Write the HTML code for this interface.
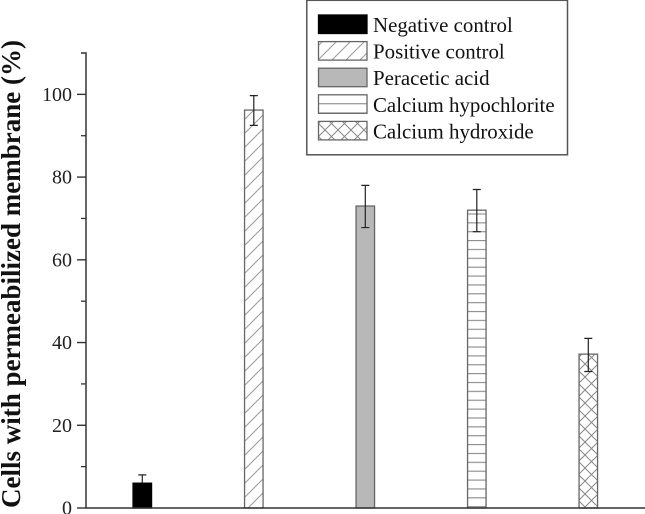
<!DOCTYPE html>
<html>
<head>
<meta charset="utf-8">
<style>
html,body{margin:0;padding:0;background:#fff;}
svg{display:block;font-family:"Liberation Serif",serif;}
</style>
</head>
<body>
<svg id="chart" xmlns="http://www.w3.org/2000/svg" width="645" height="514" viewBox="0 0 645 514">
<defs>
<pattern id="p-solid-black" patternUnits="userSpaceOnUse" width="10" height="10"><rect width="10" height="10" fill="#000"/></pattern>
<pattern id="p-solid-gray" patternUnits="userSpaceOnUse" width="10" height="10"><rect width="10" height="10" fill="#b8b8b8"/></pattern>
<pattern id="p-diag" patternUnits="userSpaceOnUse" width="14" height="14"><rect width="14" height="14" fill="#fff"/><path d="M-2 16L16 -2M-2 2L2 -2M12 16L16 12" stroke="#999" stroke-width="1" fill="none"/></pattern>
<pattern id="p-horiz" patternUnits="userSpaceOnUse" width="10" height="8.87"><rect width="10" height="8.87" fill="#fff"/><path d="M0 1.1H10" stroke="#888" stroke-width="1.1"/></pattern>
<pattern id="p-horiz-legend" patternUnits="userSpaceOnUse" width="10" height="9.25"><rect width="10" height="9.25" fill="#fff"/><path d="M0 2H10" stroke="#888" stroke-width="1.1"/></pattern>
<pattern id="p-cross" patternUnits="userSpaceOnUse" width="13" height="13"><rect width="13" height="13" fill="#fff"/><path d="M0 0L13 13M13 0L0 13" stroke="#888" stroke-width="1" fill="none"/></pattern>
</defs>
<g id="marks"></g>
<g id="axis"></g>
<text transform="translate(20,274) rotate(-90)" text-anchor="middle" font-size="27" font-weight="bold" fill="#111">Cells with permeabilized membrane (%)</text>
<g>
<rect x="306.8" y="0.3" width="260.7" height="154.5" fill="#fff" stroke="#555" stroke-width="1.5"/>
<g id="legend-entries"></g>
</g>
</svg>
<script>
const categories = ["Negative control", "Positive control", "Peracetic acid", "Calcium hypochlorite", "Calcium hydroxide"];
const values = [6, 96.2, 73, 72, 37.2];
const errorUp = [2, 3.5, 5, 5, 3.8];
const errorDown = [2, 3.7, 5.2, 5.2, 4.2];
const fills = ["p-solid-black", "p-diag", "p-solid-gray", "p-horiz", "p-cross"];
const legendFills = ["p-solid-black", "p-diag", "p-solid-gray", "p-horiz-legend", "p-cross"];
const majorTicks = [0, 20, 40, 60, 80, 100];
const minorTicks = [10, 30, 50, 70, 90];
const axisMax = 110;

const NS = "http://www.w3.org/2000/svg";
const y0 = 508, yTop = 53, axisX = 86;
function yScale(v) { return y0 - (v / axisMax) * (y0 - yTop); }
function xScale(i) { return 142.3 + i * 111.5; }
function make(tag, attrs, parent) {
  const el = document.createElementNS(NS, tag);
  for (const k in attrs) el.setAttribute(k, attrs[k]);
  parent.appendChild(el);
  return el;
}
const marks = document.getElementById("marks");
const axis = document.getElementById("axis");
const legendEntries = document.getElementById("legend-entries");
const barW = 18.5;

categories.forEach(function (c, i) {
  const cx = xScale(i);
  const top = yScale(values[i]);
  const errLine = make("path", {
    d: "M" + cx + " " + yScale(values[i] + errorUp[i]) + "V" + yScale(values[i] - errorDown[i]) +
       "M" + (cx - 4) + " " + yScale(values[i] + errorUp[i]) + "H" + (cx + 4) +
       "M" + (cx - 4) + " " + yScale(values[i] - errorDown[i]) + "H" + (cx + 4),
    stroke: "#222", "stroke-width": 1.2, fill: "none"
  }, marks);
  
  
  const bar = make("rect", {
    x: cx - barW / 2, y: top, width: barW, height: y0 - top,
    fill: "url(#" + fills[i] + ")", stroke: i === 0 ? "#000" : "#666", "stroke-width": 1.3
  }, marks);
  
  
  if (i > 0) marks.appendChild(errLine);

  const sy = 15 + i * 26.6;
  const swatch = make("rect", {
    x: 318.5, y: sy, width: 48.5, height: 18.5,
    fill: "url(#" + legendFills[i] + ")", stroke: i === 0 ? "#000" : "#666", "stroke-width": 1.3
  }, legendEntries);
  
  
  const label = make("text", { x: 373, y: sy + 17, "font-size": 20.9, fill: "#111" }, legendEntries);
  label.textContent = c;
  
  
});

const axisLine = make("path", {
  d: "M" + (axisX - 5) + " " + yTop + "H" + axisX + "V" + y0 + "H645",
  stroke: "#333", "stroke-width": 1.5, fill: "none"
}, axis);



majorTicks.forEach(function (t) {
  const tick = make("line", { x1: axisX - 9, x2: axisX, y1: yScale(t), y2: yScale(t), stroke: "#333", "stroke-width": 1.4 }, axis);
  
  
  const lab = make("text", { x: 72, y: yScale(t) + 6.5, "text-anchor": "end", "font-size": 20, fill: "#222" }, axis);
  lab.textContent = t;
  
  
});
minorTicks.forEach(function (t) {
  const tick = make("line", { x1: axisX - 5, x2: axisX, y1: yScale(t), y2: yScale(t), stroke: "#333", "stroke-width": 1.3 }, axis);
  
  
});
</script>
</body>
</html>
